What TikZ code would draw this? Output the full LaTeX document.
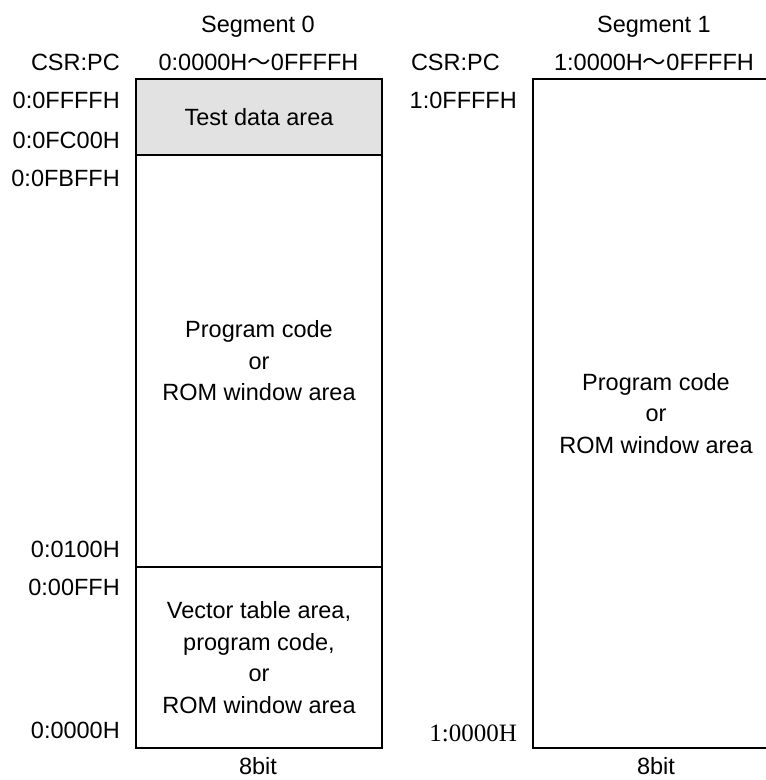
\documentclass[tikz,border=0pt]{standalone}
\usepackage{fontspec}
\setmainfont{Liberation Sans}
\newfontfamily\serifaddr{Liberation Serif}
\newfontfamily\cjkfont{Noto Sans CJK JP}
\newcommand{\rangewave}{{\cjkfont ～}}
\definecolor{testgray}{HTML}{E2E2E2}
\begin{document}
\begin{tikzpicture}[x=1pt,y=-1pt,
  font=\fontsize{23.5}{31.5}\selectfont,
  region/.style={draw=black, line width=2.5pt, inner sep=0pt, outer sep=0pt,
                 minimum width=246pt, align=center},
  addr/.style={anchor=base east, inner sep=0pt},
  head/.style={anchor=base, inner sep=0pt}]
\useasboundingbox (0,0) rectangle (766,780);

% Segment 0 memory map
\node[region, fill=testgray, minimum height=76pt] (test) at (259,117) {Test data area};
\node[region, minimum height=412pt] (prog0) at (259,361)
  {Program code\\or\\ROM window area};
\node[region, minimum height=181pt] (vect) at (259,657.5)
  {Vector table area,\\program code,\\or\\ROM window area};

% Segment 1 memory map
\node[region, minimum height=669pt] (prog1) at (656,413.5)
  {Program code\\or\\ROM window area};

% column headings
\node[head] (seg0) at (258,32) {Segment 0};
\node[head] (rng0) at (258.5,70) {0:0000H\rangewave 0FFFFH};
\node[head] (seg1) at (654,32) {Segment 1};
\node[head] (rng1) at (654,70) {1:0000H\rangewave 0FFFFH};

% address labels, segment 0
\node[addr] (csr0) at (120,70) {CSR:PC};
\node[addr] (a0ffff) at (120,108) {0:0FFFFH};
\node[addr] (a0fc00) at (120,148) {0:0FC00H};
\node[addr] (a0fbff) at (120,186) {0:0FBFFH};
\node[addr] (a00100) at (120,557) {0:0100H};
\node[addr] (a000ff) at (120,595) {0:00FFH};
\node[addr] (a00000) at (120,738) {0:0000H};

% address labels, segment 1
\node[addr] (csr1) at (500,70) {CSR:PC};
\node[addr] (a1ffff) at (517,108) {1:0FFFFH};
\node[addr, font=\serifaddr\fontsize{25}{30}\selectfont] (a10000) at (517,741) {1:0000H};

% data width
\node[head] (w0) at (258,774) {8bit};
\node[head] (w1) at (656,774) {8bit};
\end{tikzpicture}
\end{document}
